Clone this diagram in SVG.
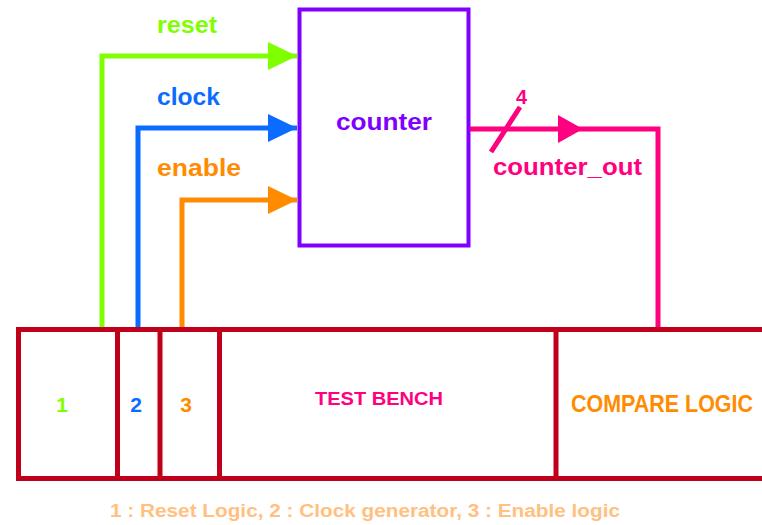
<svg xmlns="http://www.w3.org/2000/svg" width="762" height="525" viewBox="0 0 762 525">
<defs>
<style>
text{font-family:"Liberation Sans",Arial,sans-serif;font-weight:bold}
.wire{fill:none;stroke-width:5;stroke-linejoin:miter;stroke-linecap:butt}
.box{fill:#fff;stroke:#C0001A;stroke-width:5}
</style>
<marker id="ag" markerUnits="userSpaceOnUse" markerWidth="30" markerHeight="30" refX="29" refY="15" orient="auto"><path d="M0,1 L29,15 L0,29 Z" fill="#80FF00"/></marker>
<marker id="ab" markerUnits="userSpaceOnUse" markerWidth="30" markerHeight="30" refX="29" refY="15" orient="auto"><path d="M0,1 L29,15 L0,29 Z" fill="#0A6CFF"/></marker>
<marker id="ao" markerUnits="userSpaceOnUse" markerWidth="30" markerHeight="30" refX="29" refY="15" orient="auto"><path d="M0,1 L29,15 L0,29 Z" fill="#FF8C00"/></marker>
</defs>
<rect width="762" height="525" fill="#fff"/>
<g id="testbench">
<rect class="box" x="18.5" y="329.5" width="760" height="149"/>
<line x1="117.5" y1="329.5" x2="117.5" y2="478.5" stroke="#C0001A" stroke-width="5"/>
<line x1="160" y1="329.5" x2="160" y2="478.5" stroke="#C0001A" stroke-width="5"/>
<line x1="219.5" y1="329.5" x2="219.5" y2="478.5" stroke="#C0001A" stroke-width="5"/>
<line x1="556" y1="329.5" x2="556" y2="478.5" stroke="#C0001A" stroke-width="5"/>
<text x="62" y="412" font-size="21" fill="#80FF00" text-anchor="middle">1</text>
<text x="136" y="412" font-size="21" fill="#0A6CFF" text-anchor="middle">2</text>
<text x="186" y="412" font-size="21" fill="#FF8C00" text-anchor="middle">3</text>
<text x="315" y="405" font-size="19" fill="#FF0080" textLength="128" lengthAdjust="spacingAndGlyphs">TEST BENCH</text>
<text x="571" y="412" font-size="23" fill="#FF8C00" textLength="182" lengthAdjust="spacingAndGlyphs">COMPARE LOGIC</text>
</g>
<g id="counter">
<rect x="299.5" y="9.5" width="169" height="236" fill="#fff" stroke="#8000FF" stroke-width="4"/>
<text x="336" y="130" font-size="24" fill="#8000FF" textLength="96" lengthAdjust="spacingAndGlyphs">counter</text>
</g>
<g id="connectors">
<path class="wire" stroke="#80FF00" d="M102,327 V56 H297" marker-end="url(#ag)"/>
<path class="wire" stroke="#0A6CFF" d="M138,327 V128 H297" marker-end="url(#ab)"/>
<path class="wire" stroke="#FF8C00" d="M182,327 V200 H297" marker-end="url(#ao)"/>
<path class="wire" stroke="#FF0080" d="M470,129 H658 V327"/>
<path d="M558,115 L583,129 L558,143 Z" fill="#FF0080"/>
<line x1="491" y1="152" x2="520" y2="107" stroke="#FF0080" stroke-width="5"/>
<text x="516" y="104" font-size="20" fill="#FF0080" font-family="Liberation Serif,serif" font-weight="normal">4</text>
</g>
<g id="labels">
<text x="157" y="33" font-size="24" fill="#80FF00" textLength="60" lengthAdjust="spacingAndGlyphs">reset</text>
<text x="157" y="105" font-size="24" fill="#0A6CFF" textLength="63" lengthAdjust="spacingAndGlyphs">clock</text>
<text x="157" y="176" font-size="24" fill="#FF8C00" textLength="84" lengthAdjust="spacingAndGlyphs">enable</text>
<text x="493" y="175" font-size="24" fill="#FF0080" textLength="149" lengthAdjust="spacingAndGlyphs">counter_out</text>
<text x="110" y="517" font-size="18" fill="#FFC080" textLength="510" lengthAdjust="spacingAndGlyphs">1 : Reset Logic, 2 : Clock generator, 3 : Enable logic</text>
</g>
</svg>
